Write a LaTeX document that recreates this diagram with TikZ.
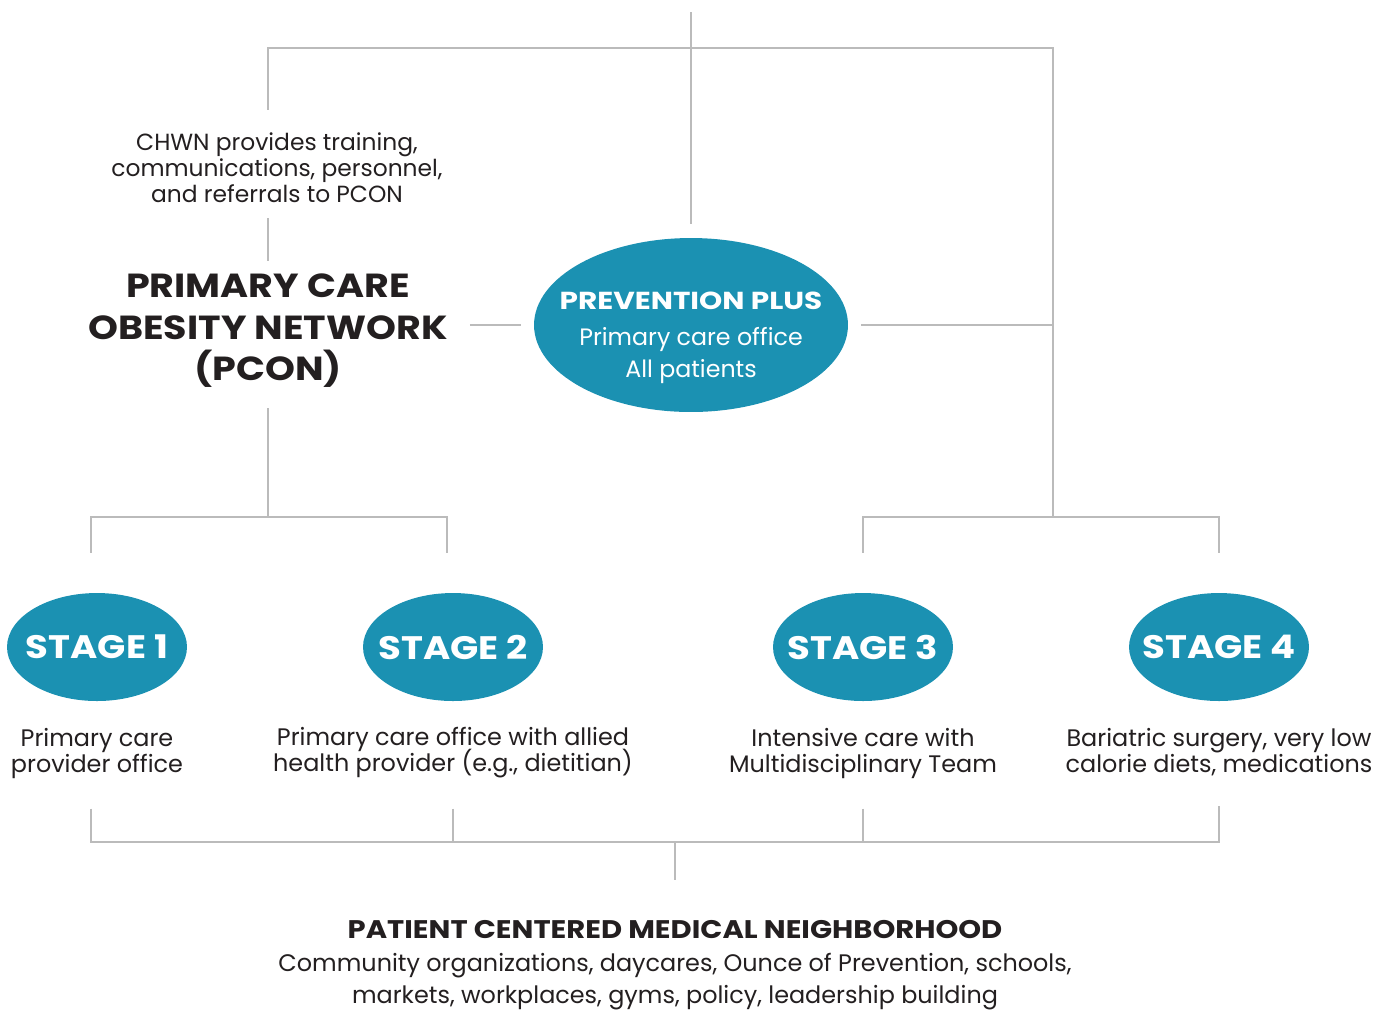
\documentclass[tikz,border=0pt]{standalone}
\usepackage{fontspec}
\setmainfont{Poppins}
\newfontfamily\headfont[FakeStretch=1.14]{Poppins}
\newfontfamily\prevfont[FakeStretch=1.2]{Poppins}
\usetikzlibrary{shapes.geometric}
\definecolor{stageblue}{HTML}{1B91B2}
\definecolor{linegray}{HTML}{BBBBBB}
\definecolor{textdark}{HTML}{231F20}
\tikzset{
  link/.style={draw=linegray, line width=0.85pt},
  stagenode/.style={ellipse, fill=stageblue, text=white, inner ysep=0pt, inner xsep=-0.3cm,
    minimum width=3.6cm, minimum height=2.16cm,
    font=\headfont\bfseries\fontsize{18.5}{20}\selectfont},
  desc/.style={text=textdark, align=center, inner sep=0pt,
    font=\fontsize{13.6}{14.8}\selectfont,
    execute at begin node={\lineskiplimit=-20pt}},
}
\begin{document}
\begin{tikzpicture}[x=0.02cm, y=-0.02cm]
\useasboundingbox (0,0) rectangle (1391,1009);

% top part
\node[ellipse, fill=stageblue, minimum width=6.28cm, minimum height=3.48cm, inner sep=0pt] (prev) at (691,325) {};
\node[text=white, align=center, inner sep=0pt, font=\fontsize{13.5}{18}\selectfont] (prevtxt) at (691,338)
  {{\prevfont\bfseries\fontsize{14}{18}\selectfont PREVENTION PLUS}\\[2.5pt] Primary care office\\ All patients};

\node[desc, font=\fontsize{13.3}{14.8}\selectfont] (chwn) at (277,168) {CHWN provides training,\\ communications, personnel,\\ and referrals to PCON};

\node[text=textdark, align=center, inner sep=0pt, font=\headfont\bfseries\fontsize{19}{23.6}\selectfont] (pcon) at (268,331)
  {PRIMARY CARE\\ OBESITY NETWORK\\ (PCON)};

% stages
\node[stagenode] (s1) at (97,647) {STAGE 1};
\node[stagenode] (s2) at (453,647) {STAGE 2};
\node[stagenode] (s3) at (863,647) {STAGE 3};
\node[stagenode] (s4) at (1219,647) {STAGE 4};

\node[desc] (d1) at (97,753) {Primary care\\ provider office};
\node[desc] (d2) at (453,753) {Primary care office with allied\\ health provider (e.g., dietitian)};
\node[desc] (d3) at (863,753) {Intensive care with\\ Multidisciplinary Team};
\node[desc] (d4) at (1219,752) {Bariatric surgery, very low\\ calorie diets, medications};

% bottom
\node[text=textdark, align=center, inner sep=0pt, font=\fontsize{13.6}{18}\selectfont] (pcmn) at (675,965)
  {{\headfont\bfseries\fontsize{14.5}{18}\selectfont PATIENT CENTERED MEDICAL NEIGHBORHOOD}\\[1pt]
   Community organizations, daycares, Ounce of Prevention, schools,\\
   markets, workplaces, gyms, policy, leadership building};

% junctions
\coordinate (topend) at (691,12);
\coordinate (tl) at (268,48);
\coordinate (tr) at (1053,48);
\coordinate (lj) at (268,517);
\coordinate (rj) at (1053,517);
\coordinate (ll) at (91,517);
\coordinate (lr) at (447,517);
\coordinate (bj) at (675,842);

% connectors
\draw[link, shorten >=0.28cm] (topend) -- (prev.north);
\draw[link, shorten <=0.46cm] (tl |- chwn.north) -- (tl) -- (tr) -- (rj);
\draw[link, shorten <=0.3cm, shorten >=0.26cm] (tl |- chwn.south) -- (tl |- pcon.north);
\draw[link, shorten <=0.44cm, shorten >=0.26cm] (prev.west -| pcon.east) -- (prev.west);
\draw[link, shorten <=0.26cm] (prev.east) -- (prev.east -| rj);
\draw[link, shorten <=0.4cm] (tl |- pcon.south) -- (lj);
\draw[link, shorten <=0.8cm, shorten >=0.8cm] (ll |- s1.north) -- (ll) -- (lr) -- (lr |- s2.north);
\draw[link, shorten <=0.8cm, shorten >=0.8cm] (s3.north) |- (rj) -| (s4.north);
\draw[link, shorten <=0.6cm, shorten >=0.6cm] (ll |- d1.south) -- (ll |- bj) -- (s4 |- bj) -- (s4 |- d4.south);
\draw[link, shorten <=0.6cm] (d2.south) -- (d2.south |- bj);
\draw[link, shorten <=0.6cm] (d3.south) -- (d3.south |- bj);
\draw[link, shorten >=0.8cm] (bj) -- (pcmn.north);
\end{tikzpicture}
\end{document}
